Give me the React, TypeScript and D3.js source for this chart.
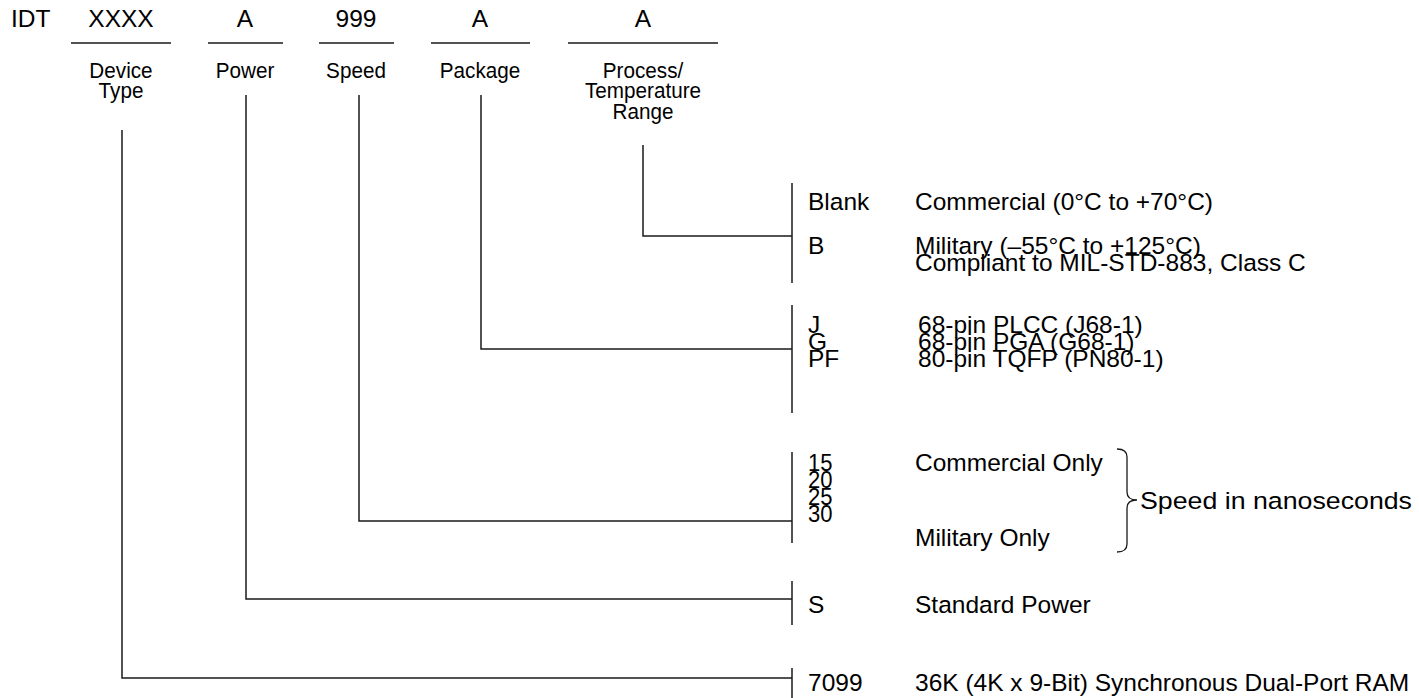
import React from "react";
import * as d3 from "d3";

// ---------- data ----------
const prefix = "IDT";
const fieldCodes = ["XXXX", "A", "999", "A", "A"];
const fieldLabels = [["Device", "Type"], ["Power"], ["Speed"], ["Package"], ["Process/", "Temperature", "Range"]];
const deviceOptions = [{ code: "7099", desc: ["36K (4K x 9-Bit) Synchronous Dual-Port RAM"] }];
const powerOptions = [{ code: "S", desc: ["Standard Power"] }];
const speedCodes = ["15", "20", "25", "30"];
const speedNotes = ["Commercial Only", "Military Only"];
const speedBraceLabel = "Speed in nanoseconds";
const packageCodes = ["J", "G", "PF"];
const packageDescs = ["68-pin PLCC (J68-1)", "68-pin PGA (G68-1)", "80-pin TQFP (PN80-1)"];
const processOptions = [
  { code: "Blank", desc: ["Commercial (0°C to +70°C)"] },
  { code: "B", desc: ["Military (–55°C to +125°C)", "Compliant to MIL-STD-883, Class C"] },
];

// ---------- layout ----------
const W = 1419, H = 698;
const FS = 24.5;
const LABEL_FS = 22.5;
const LABEL_SX = 0.92;
const font = "'Liberation Sans', Arial, Helvetica, sans-serif";
const fieldCenters = [121, 245, 356, 480, 643];
const underlines = [[71, 171], [208, 283], [319, 394], [431, 530], [568, 718]];
const connectorX = [122, 246, 359, 481, 643];
const connectorTop = [130, 95, 95, 95, 145];
const connectorY = [678, 599, 521, 349, 236];
const barX = 792;
const codeX = 808;
const descX = 915;
const lineH = 17;

export default function App() {
  const base = (c: number, fs = FS) => c + fs * 0.355;
  const line = d3.line<[number, number]>();
  const stroke = "#1a1a1a";

  const groups = [
    { bar: [668, 700], codes: deviceOptions.map(o => o.code), rows: [682], descs: deviceOptions.map(o => o.desc[0]), descRows: [682], dx: descX, sx: 1 },
    { bar: [581, 625], codes: powerOptions.map(o => o.code), rows: [604], descs: powerOptions.map(o => o.desc[0]), descRows: [604], dx: descX, sx: 1 },
    {
      bar: [452, 543],
      codes: speedCodes,
      rows: speedCodes.map((_, i) => 462 + i * lineH),
      descs: speedNotes,
      descRows: [462, 537],
      dx: descX,
      sx: 0.9,
    },
    {
      bar: [305, 413],
      codes: packageCodes,
      rows: packageCodes.map((_, i) => 324 + i * lineH),
      descs: packageDescs,
      descRows: packageDescs.map((_, i) => 324 + i * lineH),
      dx: 918,
      sx: 1,
    },
    {
      bar: [183, 283],
      codes: processOptions.map(o => o.code),
      rows: [201, 245],
      descs: processOptions.flatMap(o => o.desc),
      descRows: [201, 245, 262],
      dx: descX,
      sx: 1,
    },
  ];

  // brace
  const bx0 = 1117, by0 = 449, by1 = 552, bw = 20, bym = 500, r = 8;
  const bxm = bx0 + bw / 2;
  const bracePath = d3.path();
  bracePath.moveTo(bx0, by0);
  bracePath.quadraticCurveTo(bxm, by0, bxm, by0 + r);
  bracePath.lineTo(bxm, bym - r);
  bracePath.quadraticCurveTo(bxm, bym, bx0 + bw, bym);
  bracePath.quadraticCurveTo(bxm, bym, bxm, bym + r);
  bracePath.lineTo(bxm, by1 - r);
  bracePath.quadraticCurveTo(bxm, by1, bx0, by1);

  return (
    <svg width={W} height={H} style={{ position: "absolute", left: 0, top: 0, background: "#fff" }}
      fontFamily={font} fontSize={FS} fill="#000">
      <text x={11} y={base(18)}>{prefix}</text>
      {fieldCodes.map((c, i) => (
        <g key={i}>
          <text x={fieldCenters[i]} y={base(18)} textAnchor="middle">{c}</text>
          <path d={line([[underlines[i][0], 43], [underlines[i][1], 43]]) || ""} stroke={stroke} strokeWidth={1.5} />
          <g transform={`translate(${fieldCenters[i]},0) scale(${LABEL_SX},1)`}>
            {fieldLabels[i].map((l, j) => (
              <text key={j} x={0} y={base(70 + j * 20.5, LABEL_FS)} textAnchor="middle" fontSize={LABEL_FS}>{l}</text>
            ))}
          </g>
          <path
            d={line([[connectorX[i], connectorTop[i]], [connectorX[i], connectorY[i]], [barX, connectorY[i]]]) || ""}
            fill="none" stroke={stroke} strokeWidth={1.5} />
        </g>
      ))}
      {groups.map((g, i) => (
        <g key={"g" + i}>
          <path d={line([[barX, g.bar[0]], [barX, g.bar[1]]]) || ""} stroke={stroke} strokeWidth={1.5} />
          <g transform={`translate(${codeX},0) scale(${g.sx},1)`}>
            {g.codes.map((c, j) => (
              <text key={j} x={0} y={base(g.rows[j])}>{c}</text>
            ))}
          </g>
          {g.descs.map((d, j) => (
            <text key={j} x={g.dx} y={base(g.descRows[j])}>{d}</text>
          ))}
        </g>
      ))}
      <path d={bracePath.toString()} fill="none" stroke={stroke} strokeWidth={1.3} />
      <text x={1140} y={base(500)} textLength={272} lengthAdjust="spacingAndGlyphs">{speedBraceLabel}</text>
    </svg>
  );
}
